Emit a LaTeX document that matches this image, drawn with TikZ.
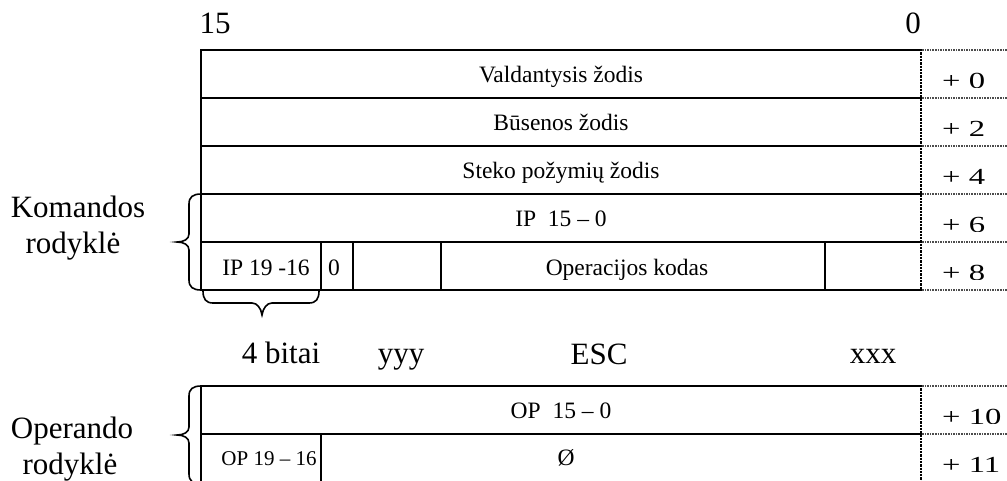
\documentclass[tikz,border=0pt]{standalone}
\usepackage{fontspec}
\setmainfont{Liberation Serif}
\begin{document}
\begin{tikzpicture}[x=1pt,y=-1pt,
  tbl/.style={line width=2.3pt, line cap=rect},
  divl/.style={line width=1.5pt},
  rborder/.style={line width=2.3pt, densely dotted},
  dotl/.style={gray!60!black, line width=1.6pt, densely dotted},
  brc/.style={line width=1.6pt},
  small/.style={font=\fontsize{23.5}{26}\selectfont, inner sep=0pt, anchor=base},
  smaller/.style={font=\fontsize{21}{24}\selectfont, inner sep=0pt, anchor=base},
  big/.style={font=\fontsize{31}{34}\selectfont, inner sep=0pt, anchor=base},
  offs/.style={font=\fontsize{23}{25}\selectfont, inner sep=0pt, anchor=base west}]
\useasboundingbox (0,0) rectangle (1007,480);
\clip (0,0) rectangle (1007,480);
% top table
\draw[tbl] (921,50) -- (201,50) -- (201,290) -- (921,290);
\foreach \yy in {98,146,194,242} \draw[tbl] (201,\yy) -- (921,\yy);
\foreach \xx in {321,353,441,825} \draw[divl] (\xx,242) -- (\xx,290);
\draw[rborder] (921,49) -- (921,291);
\foreach \yy in {50,98,146,194,242,290} \draw[dotl] (922,\yy) -- (1007,\yy);
% bottom table
\draw[tbl] (921,386) -- (201,386) -- (201,486);
\draw[tbl] (201,434) -- (921,434);
\draw[divl] (321,434) -- (321,486);
\draw[rborder] (921,385) -- (921,486);
\foreach \yy in {386,434} \draw[dotl] (922,\yy) -- (1007,\yy);
% offsets
\foreach \yy/\t in {50/0,98/2,146/4,194/6,242/8,386/10,434/11} {
  \begin{scope}
    \clip (923,{\yy+2}) rectangle (1007,{\yy+37.5});
    \node[offs] (off\t) at (942,{\yy+38.5}) {\scalebox{1.42}[1]{+ \t}};
  \end{scope}
}
% braces
\draw[brc] (201,194) .. controls (193,194) and (189,197) .. (189,204) -- (189,234)
  .. controls (189,239) and (184,242) .. (177,242)
  .. controls (184,242) and (189,245) .. (189,250) -- (189,280)
  .. controls (189,287) and (193,290) .. (201,290);
\draw[brc] (201,386) .. controls (193,386) and (189,389) .. (189,396) -- (189,427)
  .. controls (189,432) and (184,435) .. (177,435)
  .. controls (184,435) and (189,438) .. (189,443) -- (189,474)
  .. controls (189,481) and (193,484) .. (201,484);
\draw[brc] (203,291) .. controls (203,299) and (206,303) .. (213,303) -- (252,303)
  .. controls (257,303) and (261,308) .. (262,315)
  .. controls (263,308) and (267,303) .. (272,303) -- (309,303)
  .. controls (316,303) and (319,299) .. (319,291);
% texts
\node[big] (b15) at (215,33) {15};
\node[big] (b0) at (913,33) {0};
\node[small] (r1) at (561,82) {Valdantysis žodis};
\node[small] (r2) at (561,130) {Būsenos žodis};
\node[small] (r3) at (561,178) {Steko požymių žodis};
\node[small] (r4) at (561,226) {IP~~15 – 0};
\node[small] (ip) at (266,275) {IP 19 -16};
\node[small] (zero) at (334,275) {0};
\node[small] (opk) at (627,275) {Operacijos kodas};
\node[big] (kom1) at (78,217) {Komandos};
\node[big] (kom2) at (73,253) {rodyklė};
\node[big] (bits) at (281,363) {4 bitai};
\node[big] (yyy) at (401,363) {yyy};
\node[big] (esc) at (599,364) {ESC};
\node[big] (xxx) at (873,363) {xxx};
\node[small] (op150) at (561,418) {OP~~15 – 0};
\node[smaller] (op1916) at (269,465) {OP 19 – 16};
\node[small] (nul) at (566,465) {Ø};
\node[big] (oper1) at (72,438) {Operando};
\node[big] (oper2) at (70,474) {rodyklė};
\end{tikzpicture}
\end{document}
